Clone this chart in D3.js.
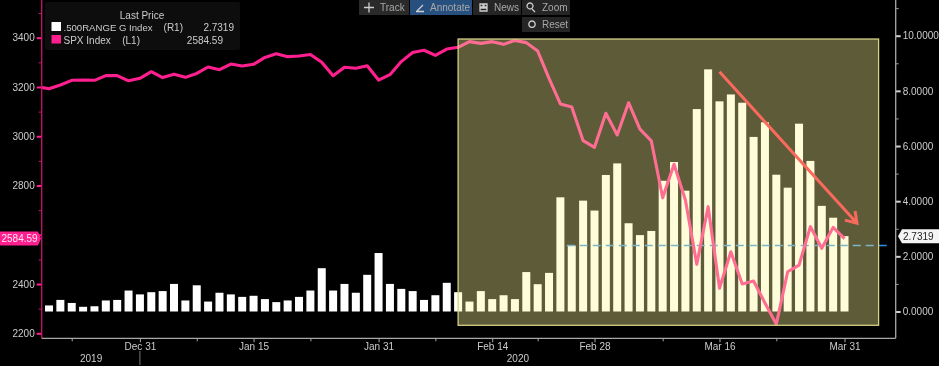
<!DOCTYPE html>
<html>
<head>
<meta charset="utf-8">
<script src="https://cdn.jsdelivr.net/npm/d3@7"></script>
<style>
html,body{margin:0;padding:0;background:#000;overflow:hidden}
svg{display:block;filter:blur(0.35px)}
text{font-family:"Liberation Sans",Arial,sans-serif;font-size:10px;fill:#cccccc}
</style>
</head>
<body>
<svg id="chart" width="939" height="366"></svg>
<script>
const dates = ["2019-12-17","2019-12-18","2019-12-19","2019-12-20","2019-12-23","2019-12-24","2019-12-26","2019-12-27","2019-12-30","2019-12-31",
"2020-01-02","2020-01-03","2020-01-06","2020-01-07","2020-01-08","2020-01-09","2020-01-10","2020-01-13","2020-01-14","2020-01-15",
"2020-01-16","2020-01-17","2020-01-21","2020-01-22","2020-01-23","2020-01-24","2020-01-27","2020-01-28","2020-01-29","2020-01-30","2020-01-31",
"2020-02-03","2020-02-04","2020-02-05","2020-02-06","2020-02-07","2020-02-10","2020-02-11","2020-02-12","2020-02-13","2020-02-14",
"2020-02-18","2020-02-19","2020-02-20","2020-02-21","2020-02-24","2020-02-25","2020-02-26","2020-02-27","2020-02-28",
"2020-03-02","2020-03-03","2020-03-04","2020-03-05","2020-03-06","2020-03-09","2020-03-10","2020-03-11","2020-03-12","2020-03-13",
"2020-03-16","2020-03-17","2020-03-18","2020-03-19","2020-03-20","2020-03-23","2020-03-24","2020-03-25","2020-03-26","2020-03-27","2020-03-30","2020-03-31"];

const rangeValues = [null,.22,.42,.31,.17,.19,.40,.42,.76,.62,.70,.74,1.0,.40,.95,.36,.68,.62,.53,.57,.45,.34,.40,.53,.76,1.57,.76,1.0,.68,1.33,2.12,1.0,.82,.74,.42,.59,1.04,.70,.36,
.74,.45,.59,.45,1.43,.99,1.40,4.14,2.39,4.02,3.66,4.95,5.37,3.2,2.77,2.92,4.74,5.42,4.38,7.34,8.78,7.62,7.87,7.57,6.33,6.86,4.96,4.49,6.81,5.46,3.83,3.40,2.7319];

const spxValues = [3201,3193,3208,3227,3228,3227,3246,3246,3225,3235,3262,3238,3252,3239,3255,3281,3270,3293,3285,3292,3320,3335,3323,3326,3332,3300,3246,3280,3276,3286,3228,3250,3303,3340,3349,3328,3354,3361,
3384,3377,3384,3373,3389,3380,3346,3235,3131,3119,2982,2955,3093,3005,3136,3029,2981,2750,2886,2741,2480,2714,2383,2531,2400,2412,2323,2237,2450,2477,2633,2545,2630,2584.59];

const leftMajor = [2200,2400,2600,2800,3000,3200,3400];
const leftMinor = [2300,2500,2700,2900,3100,3300,3500];
const rightMajor = [0,2,4,6,8,10];
const rightMinor = [1,3,5,7,9,11];
const xMajor = ["2019-12-31","2020-01-15","2020-01-31","2020-02-14","2020-02-28","2020-03-16","2020-03-31"];
const xLabels = ["Dec 31","Jan 15","Jan 31","Feb 14","Feb 28","Mar 16","Mar 31"];
const xMinor = ["2019-12-20","2020-01-08","2020-01-23","2020-02-07","2020-02-21","2020-03-09","2020-03-23"];
const yearLabels = [["2019","2019-12-23",8],["2020","2020-02-19",3]];
const lastRange = 2.7319, lastSpx = 2584.59, dashedLevel = 2.39;
const dashedFrom = "2020-02-26";
const shadeFrom = 37, shadeTo = 74, shadeTop = 9.88, shadeBottom = -0.5;
const arrowFrom = ["2020-03-16", 8.69], arrowTo = [72.1, 3.2];

const svg = d3.select("#chart");
const L = 41.7, R = 895.7, B = 338.3;
const x = d3.scalePoint().domain(dates).range([37.64, 844.5]);
const step = x.step();
const xi = i => x.range()[0] + step * i;
const yR = d3.scaleLinear().domain([0, 10]).range([311.5, 35.7]);
const yL = d3.scaleLinear().domain([2200, 3400]).range([333.3, 37.7]);

svg.append("defs").append("clipPath").attr("id","plot").append("rect")
  .attr("x",L).attr("y",0).attr("width",R-L).attr("height",B);

// bars
svg.append("g").selectAll("rect").data(dates.map((d,i)=>({d,v:rangeValues[i]})).filter(e=>e.v!==null)).join("rect")
  .attr("x",e=>x(e.d)-4).attr("width",8)
  .attr("y",e=>yR(e.v)).attr("height",e=>yR(0)-yR(e.v))
  .attr("fill","#fff");

// dashed last-level line
svg.append("line").attr("x1",x(dashedFrom)-5).attr("x2",889)
  .attr("y1",yR(dashedLevel)).attr("y2",yR(dashedLevel))
  .attr("stroke","#2f8fe0").attr("stroke-width",1.5).attr("stroke-dasharray","8 5");

// SPX line
const line = d3.line().x((d,i)=>x(dates[i])).y(d=>yL(d));
svg.append("path").attr("clip-path","url(#plot)").attr("d",line(spxValues))
  .attr("fill","none").attr("stroke","#ff1f8e").attr("stroke-width",3.1).attr("stroke-linejoin","round");

// shaded annotation
svg.append("rect").attr("x",xi(shadeFrom)).attr("width",xi(shadeTo)-xi(shadeFrom))
  .attr("y",yR(shadeTop)).attr("height",yR(shadeBottom)-yR(shadeTop))
  .attr("fill","rgb(255,247,155)").attr("fill-opacity",.37);
svg.append("rect").attr("x",xi(shadeFrom)).attr("width",xi(shadeTo)-xi(shadeFrom))
  .attr("y",yR(shadeTop)).attr("height",yR(shadeBottom)-yR(shadeTop))
  .attr("fill","none").attr("stroke","#d6d184").attr("stroke-width",1.3);

// arrow
const ax0 = x(arrowFrom[0]), ay0 = yR(arrowFrom[1]), ax1 = xi(arrowTo[0]), ay1 = yR(arrowTo[1]);
const ang = Math.atan2(ay1-ay0, ax1-ax0), hl = 12.5, ha = 0.58;
svg.append("path")
  .attr("d",`M${ax0},${ay0}L${ax1},${ay1}M${ax1-hl*Math.cos(ang-ha)},${ay1-hl*Math.sin(ang-ha)}L${ax1},${ay1}L${ax1-hl*Math.cos(ang+ha)},${ay1-hl*Math.sin(ang+ha)}`)
  .attr("fill","none").attr("stroke","#fa6a5c").attr("stroke-width",3);

// axes
function styleAxis(g,color,tw){
  g.selectAll(".domain").remove();
  g.selectAll(".tick line").attr("stroke",color).attr("stroke-width",tw);
  g.selectAll(".tick text").attr("fill",null).style("fill","#cccccc").style("font-size","10px").style("font-family",'"Liberation Sans",Arial,sans-serif');
}
const gL = svg.append("g").attr("transform",`translate(${L},0)`)
  .call(d3.axisLeft(yL).tickValues(leftMajor).tickSize(5).tickPadding(2).tickFormat(d=>d===2600?"":d));
styleAxis(gL,"#ff1f8e",2);
const gLm = svg.append("g").attr("transform",`translate(${L},0)`)
  .call(d3.axisLeft(yL).tickValues(leftMinor).tickSize(3).tickFormat(""));
styleAxis(gLm,"#c0186e",1);
const gR = svg.append("g").attr("transform",`translate(${R},0)`)
  .call(d3.axisRight(yR).tickValues(rightMajor).tickSize(5).tickPadding(2).tickFormat(d3.format(".4f")));
styleAxis(gR,"#d0d0d0",2);
const gRm = svg.append("g").attr("transform",`translate(${R},0)`)
  .call(d3.axisRight(yR).tickValues(rightMinor).tickSize(3).tickFormat(""));
styleAxis(gRm,"#999",1);
const gB = svg.append("g").attr("transform",`translate(0,${B})`)
  .call(d3.axisBottom(x).tickValues(xMajor).tickSize(4).tickPadding(1).tickFormat(d=>xLabels[xMajor.indexOf(d)]));
styleAxis(gB,"#a8a8a8",1);
const gBm = svg.append("g").attr("transform",`translate(0,${B})`)
  .call(d3.axisBottom(x).tickValues(xMinor).tickSize(3).tickFormat(""));
styleAxis(gBm,"#a8a8a8",1);

svg.append("line").attr("x1",L).attr("x2",L).attr("y1",0).attr("y2",B).attr("stroke","#c8146e").attr("stroke-width",1.3);
svg.append("line").attr("x1",R).attr("x2",R).attr("y1",0).attr("y2",B).attr("stroke","#a8a8a8").attr("stroke-width",1.3);
svg.append("line").attr("x1",L).attr("x2",R).attr("y1",B).attr("y2",B).attr("stroke","#a8a8a8").attr("stroke-width",1.3);

// years
yearLabels.forEach(([t,d,o])=>{
  svg.append("text").attr("x",x(d)+o).attr("y",361.5).attr("text-anchor","middle").text(t);
});
svg.append("line").attr("x1",x("2019-12-31")).attr("x2",x("2019-12-31")).attr("y1",351).attr("y2",365).attr("stroke","#777");

// value tags
const tagL = yL(lastSpx);
svg.append("path").attr("d",`M0,${tagL-7}H38L41,${tagL}L38,${tagL+7}H0Z`).attr("fill","#ff1f8e");
svg.append("text").attr("x",1.5).attr("y",tagL+3.5).text(lastSpx.toFixed(2)).style("fill","#ffe6f2");
const tagR = yR(lastRange);
svg.append("path").attr("d",`M898,${tagR}L902,${tagR-7}H939V${tagR+7}H902Z`).attr("fill","#f4f4f4");
svg.append("text").attr("x",903).attr("y",tagR+3.5).text(lastRange.toFixed(4)).style("fill","#222");

// legend
const lg = svg.append("g");
lg.append("rect").attr("x",45).attr("y",2).attr("width",195).attr("height",48).attr("rx",2).attr("fill","#0d0d0d");
lg.append("text").attr("x",142).attr("y",18.5).attr("text-anchor","middle").text("Last Price");
lg.append("rect").attr("x",51.5).attr("y",22).attr("width",9.5).attr("height",9).attr("fill","#fff");
lg.append("rect").attr("x",51.5).attr("y",35).attr("width",9.5).attr("height",8.5).attr("fill","#ff1f8e");
lg.append("text").attr("x",63.5).attr("y",31).text(".500RANGE G Index").style("font-size","9.6px");
lg.append("text").attr("x",183).attr("y",31).attr("text-anchor","end").text("(R1)");
lg.append("text").attr("x",234).attr("y",31).attr("text-anchor","end").text(lastRange.toFixed(4));
lg.append("text").attr("x",63.5).attr("y",43.5).text("SPX Index");
lg.append("text").attr("x",140).attr("y",43.5).attr("text-anchor","end").text("(L1)");
lg.append("text").attr("x",223).attr("y",43.5).attr("text-anchor","end").text(lastSpx.toFixed(2));

// toolbar
const buttons = [
  {t:"Track",bx:359,bw:50,by:0,bh:15,bg:"#2a2a2a",tx:380,icon:"M364,7.5h10M369,2.5v10"},
  {t:"Annotate",bx:410,bw:62,by:0,bh:15,bg:"#27507f",tx:430,icon:"M417,11l6,-6M416,11.5h8"},
  {t:"News",bx:473,bw:48,by:0,bh:15,bg:"#252525",tx:494,icon:"M480,4h3v3h-3zM484,4h3v3h-3zM480,8h7v3h-7z"},
  {t:"Zoom",bx:522,bw:48,by:0,bh:15,bg:"#252525",tx:542,icon:"M530,3a3,3 0 1,0 0.01,0M532,9l3,3"},
  {t:"Reset",bx:522,bw:48,by:17,bh:15,bg:"#252525",tx:542,icon:"M532,21a3.2,3.2 0 1,0 0.01,0"}
];
const tb = svg.append("g");
buttons.forEach(b=>{
  tb.append("rect").attr("x",b.bx).attr("y",b.by).attr("width",b.bw).attr("height",b.bh).attr("fill",b.bg);
  tb.append("path").attr("d",b.icon).attr("fill","none").attr("stroke","#cfcfcf").attr("stroke-width",1.3);
  tb.append("text").attr("x",b.tx).attr("y",b.by+11).text(b.t).style("fill","#a8a8a8");
});
</script>
</body>
</html>
